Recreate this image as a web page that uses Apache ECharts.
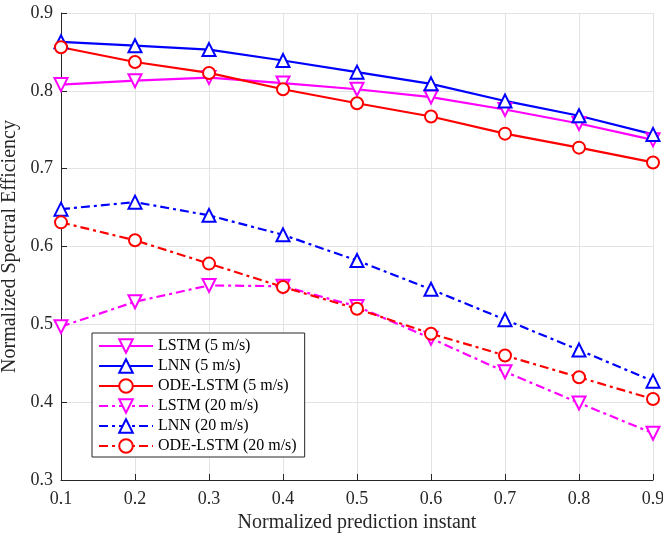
<!DOCTYPE html>
<html>
<head>
<meta charset="utf-8">
<script src="https://cdn.jsdelivr.net/npm/echarts@6/dist/echarts.min.js"></script>
<style>
html,body{margin:0;padding:0;background:#fff;}
#chart{width:663px;height:535px;}
</style>
</head>
<body>
<div id="chart"></div>
<script>
var xValues = [0.1, 0.2, 0.3, 0.4, 0.5, 0.6, 0.7, 0.8, 0.9];
var lstm5   = [0.808, 0.813, 0.817, 0.810, 0.802, 0.792, 0.776, 0.758, 0.737];
var lnn5    = [0.863, 0.858, 0.853, 0.839, 0.824, 0.809, 0.787, 0.768, 0.744];
var ode5    = [0.856, 0.837, 0.823, 0.802, 0.784, 0.767, 0.745, 0.727, 0.708];
var lstm20  = [0.497, 0.529, 0.550, 0.549, 0.523, 0.482, 0.439, 0.399, 0.360];
var lnn20   = [0.648, 0.657, 0.640, 0.615, 0.582, 0.545, 0.506, 0.467, 0.427];
var ode20   = [0.631, 0.608, 0.578, 0.548, 0.520, 0.488, 0.460, 0.432, 0.404];
var seriesNames = ['LSTM (5 m/s)', 'LNN (5 m/s)', 'ODE-LSTM (5 m/s)',
                   'LSTM (20 m/s)', 'LNN (20 m/s)', 'ODE-LSTM (20 m/s)'];
var yTicks = {min: 0.3, max: 0.9, step: 0.1};
var xTicks = {min: 0.1, max: 0.9, step: 0.1};

var FONT = '"Liberation Serif", "Times New Roman", serif';
var AXC = '#262626';
var dashDot = [9, 4, 3, 4];

function pairs(ys) { return xValues.map(function (x, i) { return [x, ys[i]]; }); }

function mk(name, ys, color, sym, rot, dashed) {
  return {
    name: name,
    type: 'line',
    data: pairs(ys),
    symbol: sym,
    symbolSize: sym === 'emptyCircle' ? 12 : 13,
    symbolRotate: rot,
    showAllSymbol: true,
    lineStyle: {color: color, width: 2.2, type: dashed ? dashDot : 'solid'},
    itemStyle: {color: color, borderColor: color, borderWidth: 2},
    emphasis: {disabled: true},
    animation: false,
    z: 3
  };
}

var chart = echarts.init(document.getElementById('chart'), null, {renderer: 'canvas'});
chart.setOption({
  backgroundColor: '#fff',
  animation: false,
  grid: {left: 61, right: 10, top: 13, bottom: 55, containLabel: false, outerBoundsMode: 'none'},
  legend: {
    orient: 'vertical',
    left: 92, top: 333,
    padding: [5, 8, 3, 6],
    itemWidth: 54, itemHeight: 17, itemGap: 4,
    backgroundColor: '#fff',
    borderColor: AXC, borderWidth: 1,
    textStyle: {fontFamily: FONT, fontSize: 16, color: '#000', lineHeight: 14},
    data: seriesNames
  },
  xAxis: {
    type: 'value', min: xTicks.min, max: xTicks.max, interval: xTicks.step,
    name: 'Normalized prediction instant', nameLocation: 'middle', nameGap: 32,
    nameTextStyle: {fontFamily: FONT, fontSize: 20, color: AXC},
    axisLine: {show: true, lineStyle: {color: AXC, width: 1}},
    axisTick: {show: true, inside: true, length: 6, lineStyle: {color: AXC}},
    axisLabel: {fontFamily: FONT, fontSize: 18, color: AXC, margin: 10,
      formatter: function (v) { return v.toFixed(1); }},
    splitLine: {show: true, lineStyle: {color: '#e3e3e3', width: 1}}
  },
  yAxis: {
    type: 'value', min: yTicks.min, max: yTicks.max, interval: yTicks.step,
    name: 'Normalized Spectral Efficiency', nameLocation: 'middle', nameGap: 36,
    nameTextStyle: {fontFamily: FONT, fontSize: 20, color: AXC},
    axisLine: {show: true, lineStyle: {color: AXC, width: 1}},
    axisTick: {show: true, inside: true, length: 6, lineStyle: {color: AXC}},
    axisLabel: {fontFamily: FONT, fontSize: 18, color: AXC, margin: 8,
      formatter: function (v) { return v.toFixed(1); }},
    splitLine: {show: true, lineStyle: {color: '#e3e3e3', width: 1}}
  },
  series: [
    mk(seriesNames[0], lstm5, '#ff00ff', 'emptyTriangle', 180, false),
    mk(seriesNames[1], lnn5, '#0000ff', 'emptyTriangle', 0, false),
    mk(seriesNames[2], ode5, '#ff0000', 'emptyCircle', 0, false),
    mk(seriesNames[3], lstm20, '#ff00ff', 'emptyTriangle', 180, true),
    mk(seriesNames[4], lnn20, '#0000ff', 'emptyTriangle', 0, true),
    mk(seriesNames[5], ode20, '#ff0000', 'emptyCircle', 0, true)
  ]
});
</script>
</body>
</html>
